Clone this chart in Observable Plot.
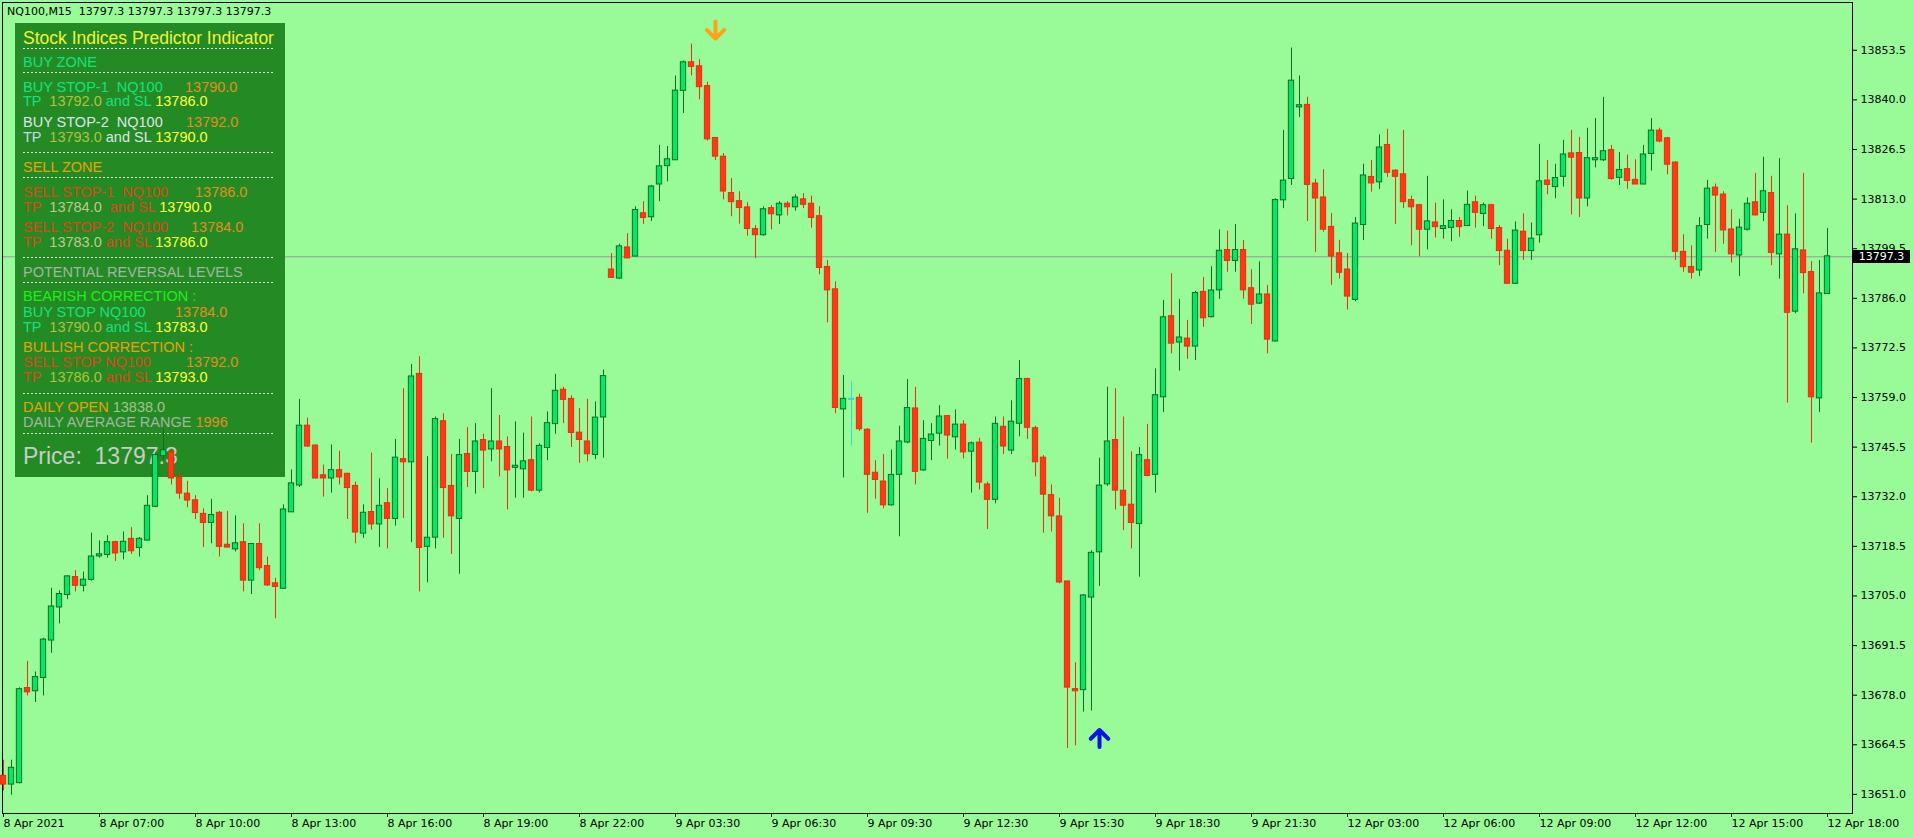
<!DOCTYPE html>
<html><head><meta charset="utf-8">
<script src="https://cdn.jsdelivr.net/npm/d3@7"></script>
<script src="https://cdn.jsdelivr.net/npm/@observablehq/plot@0.6"></script>
<style>
html,body{margin:0;padding:0;background:#98fb98;}
#wrap{position:relative;width:1914px;height:838px;overflow:hidden;font-family:"DejaVu Sans",sans-serif;}
#wrap svg{position:absolute;left:0;top:0;}
.ov{position:absolute;white-space:pre;line-height:1;}
#panel{position:absolute;left:15px;top:23px;width:270px;height:454px;background:#248a24;}
.sep{position:absolute;left:23px;width:252px;height:1px;background:repeating-linear-gradient(90deg,rgba(235,255,235,0.9) 0 2px,transparent 2px 4px);}
</style></head><body><div id="wrap"></div>
<script>
// ---- data (M15 candles, NQ100) ----
const opens = [13655.9,13653.8,13654.2,13679.8,13679.2,13682.8,13693.0,13702.0,13705.4,13710.0,
13707.9,13709.5,13715.9,13716.3,13719.5,13717.0,13720.4,13718.2,13720.2,13729.4,
13743.2,13743.9,13737.1,13732.7,13730.9,13727.2,13725.0,13727.5,13718.8,13717.8,
13719.5,13709.3,13719.0,13713.0,13708.3,13707.1,13727.9,13735.2,13751.2,13745.8,
13737.7,13737.1,13739.1,13738.1,13734.8,13722.1,13727.7,13724.6,13730.1,13726.1,
13742.1,13741.5,13765.3,13718.5,13721.0,13752.4,13734.8,13726.1,13743.5,13738.9,
13747.3,13745.0,13746.9,13745.4,13740.0,13739.6,13741.8,13733.8,13745.4,13751.9,
13761.0,13758.5,13749.3,13746.9,13743.5,13753.7,13793.7,13791.5,13799.7,13797.5,
13809.0,13808.2,13817.1,13822.1,13823.7,13842.6,13850.1,13849.0,13843.6,13829.5,
13824.4,13814.5,13812.3,13810.6,13804.7,13803.3,13810.4,13808.7,13811.6,13810.9,
13812.8,13811.6,13808.2,13794.4,13788.3,13755.9,13758.5,13758.8,13750.1,13738.4,
13736.0,13729.8,13738.1,13746.9,13755.9,13739.3,13747.3,13749.3,13753.8,13748.3,
13751.5,13744.4,13746.6,13735.2,13731.3,13750.9,13744.7,13752.0,13763.9,13750.5,
13742.5,13732.3,13726.5,13708.8,13679.5,13679.5,13704.7,13717.0,13735.5,13747.3,
13733.5,13729.7,13724.7,13741.8,13738.1,13759.2,13781.0,13774.1,13774.9,13773.0,
13787.6,13781.0,13788.3,13799.0,13796.3,13799.0,13788.6,13784.7,13786.9,13774.4,
13812.8,13818.6,13838.1,13838.5,13817.1,13813.3,13805.3,13798.1,13793.7,13785.7,
13806.1,13818.9,13817.7,13827.6,13820.6,13819.6,13812.6,13811.2,13804.8,13806.5,
13805.0,13805.3,13806.9,13805.8,13812.0,13809.1,13811.2,13805.0,13798.8,13790.1,
13804.0,13799.0,13803.3,13817.9,13816.4,13819.2,13825.3,13825.4,13813.3,13823.7,
13823.7,13826.2,13818.9,13821.0,13818.1,13817.1,13825.4,13831.5,13829.4,13822.8,
13798.5,13794.4,13793.7,13806.1,13816.0,13814.1,13804.6,13797.8,13804.8,13812.0,
13809.4,13814.5,13798.1,13803.2,13782.5,13798.9,13793.0,13758.9,13787.3];
const highs = [13660.3,13660.3,13680.0,13687.2,13684.3,13693.5,13707.1,13706.4,13710.5,13711.9,
13711.5,13722.1,13720.0,13721.4,13719.9,13722.4,13723.6,13720.9,13732.3,13743.9,
13750.5,13745.0,13738.9,13736.2,13732.3,13728.7,13731.3,13728.0,13728.0,13726.8,
13724.6,13719.2,13724.6,13715.6,13709.8,13729.8,13739.3,13758.5,13753.4,13746.1,
13740.6,13746.1,13744.4,13738.4,13736.0,13729.8,13743.9,13736.9,13734.2,13747.6,
13761.4,13768.0,13770.1,13742.9,13753.7,13754.6,13743.5,13747.6,13750.8,13751.9,
13749.0,13761.4,13754.1,13748.3,13752.4,13749.3,13753.7,13746.4,13755.1,13765.3,
13761.8,13759.5,13756.0,13758.5,13757.8,13766.5,13798.2,13800.7,13803.6,13810.9,
13812.3,13816.7,13827.6,13827.3,13846.5,13850.6,13855.2,13850.9,13844.8,13829.8,
13825.4,13818.6,13815.0,13812.0,13805.8,13810.9,13811.2,13812.3,13812.3,13814.2,
13814.5,13813.8,13810.9,13796.3,13790.5,13765.0,13763.3,13759.9,13750.5,13741.8,
13743.5,13744.7,13751.2,13763.9,13761.8,13752.7,13751.9,13756.8,13754.1,13755.6,
13752.7,13746.9,13747.9,13736.0,13753.7,13753.7,13758.1,13769.1,13764.3,13751.2,
13743.2,13735.2,13731.6,13709.0,13686.8,13705.4,13717.3,13742.5,13761.8,13761.4,
13753.7,13744.2,13745.4,13751.7,13766.8,13785.4,13792.7,13785.7,13780.0,13787.9,
13791.7,13794.6,13804.6,13804.3,13806.1,13801.7,13793.8,13795.9,13789.5,13813.1,
13831.7,13854.1,13846.5,13840.7,13818.4,13821.0,13809.1,13801.8,13798.2,13808.0,
13822.5,13823.5,13830.5,13832.0,13821.0,13831.7,13813.8,13811.6,13819.2,13811.9,
13812.8,13810.1,13808.0,13815.2,13813.8,13811.9,13811.6,13805.8,13802.1,13806.8,
13809.0,13806.5,13827.9,13823.5,13822.5,13829.0,13831.7,13829.8,13832.3,13834.9,
13840.7,13827.6,13825.7,13825.0,13823.7,13827.6,13834.9,13832.3,13829.8,13823.2,
13803.3,13800.3,13808.0,13818.1,13817.1,13815.0,13810.1,13807.5,13813.3,13820.0,
13824.4,13819.2,13824.0,13811.2,13809.0,13820.0,13796.0,13796.3,13805.0];
const lows = [13651.9,13650.8,13653.8,13677.8,13676.0,13677.8,13689.4,13697.4,13704.0,13706.1,
13706.1,13709.0,13715.3,13715.3,13714.4,13714.8,13716.3,13715.6,13720.0,13729.0,
13742.0,13735.2,13731.3,13729.0,13725.8,13718.2,13719.2,13715.6,13718.2,13717.0,
13706.1,13705.4,13711.9,13707.6,13698.8,13706.8,13727.7,13734.5,13745.4,13736.8,
13731.9,13733.0,13735.2,13725.8,13719.2,13720.7,13722.9,13718.2,13717.8,13724.0,
13726.1,13719.5,13706.1,13708.6,13717.8,13720.7,13716.3,13710.9,13734.5,13732.7,
13734.2,13741.5,13737.4,13728.4,13731.6,13731.6,13733.3,13733.0,13741.8,13749.0,
13751.9,13745.4,13741.1,13741.5,13742.1,13742.5,13791.5,13791.2,13796.8,13797.3,
13806.1,13806.9,13812.3,13817.7,13823.5,13836.3,13846.5,13840.0,13828.8,13823.5,
13812.8,13808.2,13806.2,13802.9,13796.8,13802.9,13804.6,13806.1,13808.4,13809.7,
13810.4,13805.1,13792.4,13779.3,13754.6,13737.1,13745.8,13749.8,13727.5,13731.3,
13728.7,13729.4,13721.1,13746.4,13735.2,13738.9,13741.8,13745.8,13742.2,13744.7,
13742.3,13733.0,13733.8,13723.1,13730.1,13743.5,13743.5,13748.3,13747.6,13737.4,
13722.1,13722.4,13708.3,13663.5,13664.2,13673.4,13673.7,13707.6,13734.8,13728.4,
13722.8,13717.8,13710.1,13737.4,13733.0,13754.9,13770.9,13766.2,13769.4,13769.1,
13778.1,13780.7,13785.7,13793.1,13793.1,13785.8,13778.9,13784.3,13770.9,13774.1,
13810.4,13816.7,13835.2,13806.9,13798.5,13804.0,13789.5,13791.2,13782.8,13785.1,
13801.7,13814.9,13815.6,13818.9,13806.1,13810.4,13800.3,13797.3,13799.2,13802.4,
13802.1,13801.4,13802.6,13805.5,13805.1,13805.5,13802.1,13794.9,13789.8,13789.8,
13796.3,13796.3,13801.0,13814.2,13813.1,13816.3,13808.7,13808.0,13810.9,13821.5,
13823.2,13818.1,13816.7,13815.7,13817.1,13817.0,13820.6,13828.3,13819.6,13796.3,
13793.1,13791.2,13791.9,13802.1,13798.5,13800.7,13795.6,13791.9,13804.3,13808.4,
13806.9,13794.9,13791.2,13757.5,13781.8,13787.2,13746.6,13754.9,13787.2];
const closes = [13653.8,13658.1,13679.5,13678.9,13682.8,13693.0,13702.0,13705.4,13710.2,13707.9,
13709.3,13715.6,13716.2,13719.5,13716.7,13719.6,13717.3,13720.4,13729.4,13743.2,
13744.5,13737.1,13733.0,13731.1,13727.7,13725.0,13726.9,13718.5,13718.3,13719.2,
13709.3,13719.0,13712.7,13708.0,13707.6,13728.4,13735.5,13751.2,13745.8,13737.1,
13737.1,13739.1,13737.4,13734.5,13722.4,13727.5,13724.6,13729.4,13726.1,13742.5,
13741.5,13764.6,13718.2,13720.7,13753.0,13734.5,13726.8,13743.2,13738.9,13746.9,
13744.7,13746.9,13745.0,13739.3,13740.3,13741.5,13733.8,13745.7,13751.9,13760.7,
13758.5,13749.5,13747.6,13743.7,13753.4,13764.7,13791.7,13800.0,13797.0,13809.9,
13808.0,13816.3,13821.8,13823.7,13842.4,13850.1,13849.1,13843.6,13829.4,13824.7,
13815.2,13812.3,13810.7,13805.0,13803.3,13810.1,13809.0,13811.6,13810.9,13813.3,
13811.6,13808.0,13794.4,13788.3,13756.3,13758.5,13758.5,13750.5,13738.1,13736.7,
13729.8,13737.8,13746.9,13756.0,13738.9,13747.6,13748.8,13753.7,13748.8,13751.5,
13744.2,13746.4,13736.0,13731.3,13751.7,13745.8,13752.3,13763.9,13750.9,13741.5,
13732.7,13726.8,13708.8,13680.2,13679.2,13705.0,13716.6,13734.9,13746.9,13733.8,
13729.7,13725.0,13743.2,13737.8,13759.5,13780.7,13773.8,13775.2,13773.0,13787.3,
13780.7,13788.0,13798.8,13796.3,13799.0,13788.3,13784.4,13786.9,13774.9,13812.6,
13817.9,13845.1,13838.4,13817.0,13813.3,13804.8,13797.5,13793.1,13786.6,13806.2,
13819.3,13817.4,13826.9,13820.3,13819.2,13812.3,13810.9,13804.8,13806.8,13805.5,
13805.5,13806.9,13805.5,13811.3,13809.4,13811.2,13805.0,13799.0,13790.1,13804.3,
13799.0,13802.1,13817.7,13817.0,13818.6,13825.0,13824.4,13813.3,13824.0,13824.0,
13825.9,13818.6,13820.8,13818.1,13817.1,13825.0,13831.5,13828.8,13822.5,13798.8,
13794.6,13793.1,13805.5,13815.7,13814.1,13804.6,13798.1,13805.1,13811.6,13808.7,
13815.0,13798.5,13803.2,13782.2,13799.2,13793.0,13759.2,13787.2,13797.3];
const cyanBar = 106;
const lastPrice = 13797.3;
const yTicks = [13651.0,13664.5,13678.0,13691.5,13705.0,13718.5,13732.0,13745.5,13759.0,13772.5,13786.0,13799.5,13813.0,13826.5,13840.0,13853.5];
const xTickIdx = [0,12,24,36,48,60,72,84,96,108,120,132,144,156,168,180,192,204,216,228];
const xTickLabels = ["8 Apr 2021","8 Apr 07:00","8 Apr 10:00","8 Apr 13:00","8 Apr 16:00","8 Apr 19:00","8 Apr 22:00","9 Apr 03:30","9 Apr 06:30","9 Apr 09:30","9 Apr 12:30","9 Apr 15:30","9 Apr 18:30","9 Apr 21:30","12 Apr 03:00","12 Apr 06:00","12 Apr 09:00","12 Apr 12:00","12 Apr 15:00","12 Apr 18:00"];
const arrowIdx = [89, 137];
const arrowPrice = [13859.0, 13666.2];
const arrowUp = [false, true];
const arrowColor = ["#ffa21a", "#0a14e6"];

(function () {
const candles = closes.map((c, i) => {
  const o = opens[i];
  const up = c >= o;
  const cy = i === cyanBar;
  return {i, o, h: highs[i], l: lows[i], c,
    wick: cy ? "#3fd6d0" : (up ? "#0b6e22" : "#e8300c"),
    fill: cy ? "#3fd6d0" : (up ? "#00e864" : "#ff3a12"),
    edge: cy ? "#3fd6d0" : (up ? "#0b6e22" : "#e2300e")};
});
const arrows = arrowIdx.map((i, k) => ({i, p: arrowPrice[k], up: arrowUp[k], color: arrowColor[k]}));

const W = 1914, H = 838;
const base = {width: W, height: H, marginLeft: 2, marginRight: 62, marginTop: 2, marginBottom: 25,
  color: {type: "identity"},
  style: {background: "transparent", fontFamily: "DejaVu Sans, sans-serif", fontSize: "11px", color: "black", overflow: "visible"}};
const xDom = [-0.125, 231.125], yDom = [13645.8, 13866.5];

const wrap = document.getElementById("wrap");

const bottomPlot = Plot.plot({...base,
  x: {domain: xDom}, y: {domain: yDom},
  marks: [
    Plot.ruleY([lastPrice], {stroke: "#9a9a9a", strokeWidth: 1}),
    Plot.frame({stroke: "black"}),
    Plot.axisY({anchor: "right", ticks: yTicks, tickFormat: d => d.toFixed(1), tickSize: 4, tickPadding: 4, label: null, fill: "black", stroke: "black"}),
    Plot.axisX({anchor: "bottom", ticks: xTickIdx, tickFormat: d => xTickLabels[xTickIdx.indexOf(d)], tickSize: 4, tickPadding: 2, textAnchor: "start", label: null, fill: "black", stroke: "black"})
  ]});
wrap.appendChild(bottomPlot);

const panel = document.createElement("div");
panel.id = "panel";
wrap.appendChild(panel);

const SG = "#14e27e", OR = "#e38d22", OL = "#b2c23c", YE = "#ffff3c", WH = "#dce6e6", LB = "#c4d8e8",
      RD = "#dc4818", GO = "#e6a20a", GR = "#a3b5a3", BG = "#1cf01c", BE = "#c2c88e";
const panelRows = [
 [39, 17.5, [["Stock Indices Predictor Indicator", "#f2f23c"]]],
 [61.7, 14.5, [["BUY ZONE", SG]]],
 [86.7, 14.5, [["BUY STOP-1  NQ100", SG], ["13790.0", OR, 185]]],
 [101, 14.5, [["TP  ", SG], ["13792.0", OL], [" and SL ", SG], ["13786.0", YE]]],
 [121.7, 14.5, [["BUY STOP-2  NQ100", WH], ["13792.0", OR, 186]]],
 [136.7, 14.5, [["TP  ", LB], ["13793.0", OL], [" and SL ", WH], ["13790.0", YE]]],
 [166.7, 14.5, [["SELL ZONE", GO]]],
 [191.7, 14.5, [["SELL STOP-1  NQ100", RD], ["13786.0", OR, 195]]],
 [206.7, 14.5, [["TP  ", RD], ["13784.0", BE], ["  and SL ", RD], ["13790.0", YE]]],
 [227.3, 14.5, [["SELL STOP-2  NQ100", RD], ["13784.0", OR, 191]]],
 [241.7, 14.5, [["TP  ", RD], ["13783.0", BE], [" and SL ", RD], ["13786.0", YE]]],
 [271.7, 14.5, [["POTENTIAL REVERSAL LEVELS", GR]]],
 [296, 14.5, [["BEARISH CORRECTION :", BG]]],
 [311.7, 14.5, [["BUY STOP NQ100", SG], ["13784.0", OR, 175]]],
 [326.7, 14.5, [["TP  ", SG], ["13790.0", OL], [" and SL ", SG], ["13783.0", YE]]],
 [346.7, 14.5, [["BULLISH CORRECTION :", GO]]],
 [361.7, 14.5, [["SELL STOP NQ100", RD], ["13792.0", OR, 186]]],
 [376.7, 14.5, [["TP  ", RD], ["13786.0", OL], [" and SL ", RD], ["13793.0", YE]]],
 [406.7, 14.5, [["DAILY OPEN ", GO], ["13838.0", "#a6c48a"]]],
 [421.7, 14.5, [["DAILY AVERAGE RANGE ", GR], ["1996", OR]]],
 [456.7, 23, [["Price:  13797.3", "#c6cec6"]]]
];
const seps = [48, 71.7, 152.3, 177.3, 256.7, 282.3, 392.7, 432.7];

function addText(parent, x, y, size, segs) {
  const d = document.createElement("div");
  d.className = "ov";
  d.style.left = x + "px";
  d.style.top = (y - 0.49 * size) + "px";
  d.style.fontSize = size + "px";
  d.style.fontFamily = '"Liberation Sans", Arial, sans-serif';
  for (const [t, col] of segs) {
    const s = document.createElement("span");
    s.textContent = t; s.style.color = col;
    d.appendChild(s);
  }
  parent.appendChild(d);
}
const panelLayer = document.createElement("div");
panelLayer.style.cssText = "position:absolute;left:0;top:0;width:1914px;height:838px;";
wrap.appendChild(panelLayer);
for (const [y, size, segs] of panelRows) {
  const flow = segs.filter(s => s[2] === undefined);
  addText(panelLayer, 23, y, size, flow);
  for (const s of segs.filter(s => s[2] !== undefined)) addText(panelLayer, s[2], y, size, [s]);
}
for (const y of seps) {
  const s = document.createElement("div");
  s.className = "sep"; s.style.top = y + "px";
  panelLayer.appendChild(s);
}

const candlePlot = Plot.plot({...base,
  x: {domain: xDom, axis: null}, y: {domain: yDom, axis: null},
  marks: [
    Plot.ruleX(candles, {x: "i", y1: "l", y2: "h", stroke: "wick", strokeWidth: 1}),
    Plot.rect(candles, {x1: d => d.i - 0.33, x2: d => d.i + 0.33, y1: "o", y2: "c", fill: "fill", stroke: "edge", strokeWidth: 1, insetTop: -0.5, insetBottom: -0.5}),
    Plot.vector(arrows, {x: "i", y: "p", length: 17, r: 9, rotate: d => d.up ? 0 : 180, anchor: "middle", stroke: "color", strokeWidth: 4, strokeLinecap: "round", strokeLinejoin: "round"})
  ]});
wrap.appendChild(candlePlot);

const hdr = document.createElement("div");
hdr.className = "ov";
hdr.style.cssText += "left:7px;top:6px;font-size:11px;color:#000;font-family:'DejaVu Sans',sans-serif;";
hdr.textContent = "NQ100,M15  13797.3 13797.3 13797.3 13797.3";
wrap.appendChild(hdr);

const py = bottomPlot.scale("y").apply(lastPrice);
const box = document.createElement("div");
box.className = "ov";
box.style.cssText += `left:1853px;top:${py - 6.5}px;width:57px;height:13px;line-height:13px;background:#000;color:#fff;font-size:11px;text-align:center;font-family:'DejaVu Sans',sans-serif;`;
box.textContent = lastPrice.toFixed(1);
wrap.appendChild(box);
})();
</script>
</body></html>
